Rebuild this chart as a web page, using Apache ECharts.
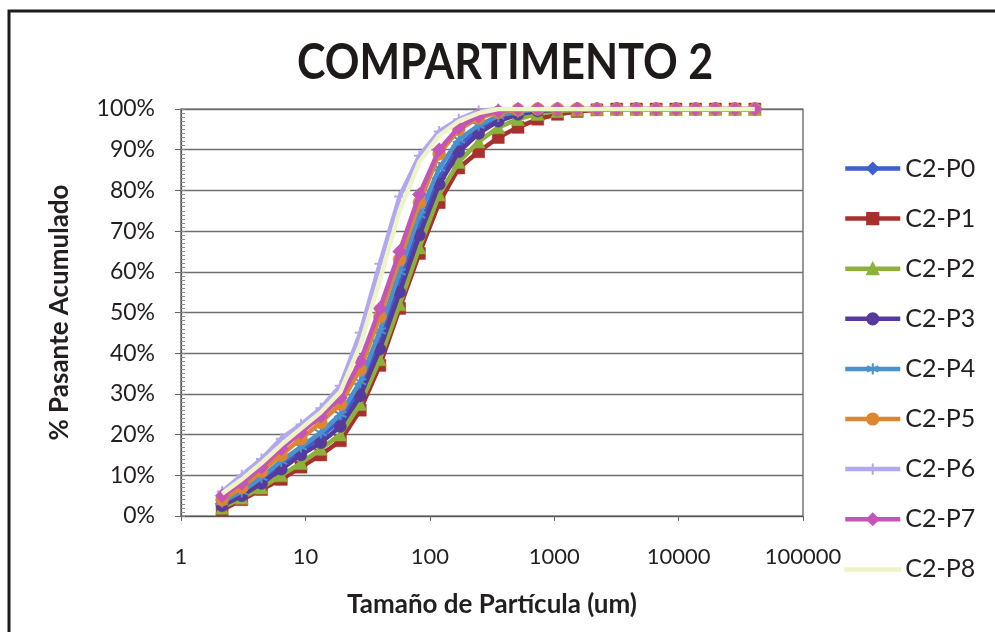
<!DOCTYPE html>
<html>
<head>
<meta charset="utf-8">
<script src="https://cdn.jsdelivr.net/npm/echarts@6/dist/echarts.min.js"></script>
<style>
  html, body { margin: 0; padding: 0; background: #ffffff; }
  #chart { width: 995px; height: 632px; }
</style>
</head>
<body>
<div id="chart"></div>
<script>
// Particle size (um) of each measured fraction
const sizes = [2.14, 3.08, 4.44, 6.40, 9.22, 13.3, 19.1, 27.6, 39.7, 57.2, 82.5, 119, 171, 247,
  355, 512, 738, 1063, 1531, 2206, 3179, 4580, 6598, 9508, 13700, 19740, 28440, 40980];

// Cumulative passing (%) per sample
const p0 = [3, 5.5, 9, 12.5, 16, 19.5, 23.5, 31, 43, 57, 71, 83, 91, 95, 97.5, 99, 99.7,
  100, 100, 100, 100, 100, 100, 100, 100, 100, 100, 100];
const p1 = [1.5, 4, 6.5, 9, 12, 15, 18.5, 26, 37, 51, 64.5, 77, 85.5, 89.5, 93, 95.5, 97.5, 98.7, 99.4, 99.8,
  100, 100, 100, 100, 100, 100, 100, 100];
const p2 = [2, 4.5, 7, 10, 13, 16.5, 20, 27.5, 38.5, 52, 66, 79, 87, 92, 95.5, 97.5, 98.8, 99.5, 99.8,
  100, 100, 100, 100, 100, 100, 100, 100, 100];
const p3 = [2.5, 5, 8, 11.5, 15, 18, 22, 29.5, 41, 55, 69, 81.5, 89.5, 94, 97, 98.7, 99.5, 99.8,
  100, 100, 100, 100, 100, 100, 100, 100, 100, 100];
const p4 = [3.5, 6, 9.5, 13.5, 17, 20.5, 25, 33, 45.5, 60, 74, 85.5, 92.5, 96, 98.3, 99.3,
  100, 100, 100, 100, 100, 100, 100, 100, 100, 100, 100, 100];
const p5 = [4, 7, 11, 15, 19, 23, 27.5, 36, 49, 63, 77, 89, 95, 97.8, 99.2, 99.8,
  100, 100, 100, 100, 100, 100, 100, 100, 100, 100, 100, 100];
const p6 = [6, 10, 14, 19, 22.5, 26.5, 32, 45, 62, 78.5, 88.5, 94.5, 97.5, 99.5,
  100, 100, 100, 100, 100, 100, 100, 100, 100, 100, 100, 100, 100, 100];
const p7 = [5, 8, 12, 16.5, 20.5, 24.5, 29, 38, 51, 65, 79, 90, 95.5, 98.3, 99.5,
  100, 100, 100, 100, 100, 100, 100, 100, 100, 100, 100, 100, 100];
const p8 = [5.5, 9, 13, 17.5, 21.5, 25.5, 30.5, 42, 58, 75, 87, 93.5, 97, 99,
  100, 100, 100, 100, 100, 100, 100, 100, 100, 100, 100, 100, 100, 100];

const seriesNames = ['C2-P0', 'C2-P1', 'C2-P2', 'C2-P3', 'C2-P4', 'C2-P5', 'C2-P6', 'C2-P7', 'C2-P8'];
const seriesValues = [p0, p1, p2, p3, p4, p5, p6, p7, p8];

// x-axis decade labels and y-axis range
const xTicks = [1, 10, 100, 1000, 10000, 100000];
const yMin = 0, yMax = 100, yStep = 10;

const ASTERISK = 'path://M0,-6L0,6M-5.2,-3L5.2,3M-5.2,3L5.2,-3';
const PLUS = 'path://M0,-5L0,5M-5,0L5,0';
// plain thin bar for a series drawn without markers
const BAR_ICON = 'path://M0,0L0,0M0,6L55,6L55,8.5L0,8.5ZM55,14L55,14';

const styles = [
  { color: '#3d5fcf', symbol: 'diamond', size: 14 },
  { color: '#a8302e', symbol: 'rect', size: 12 },
  { color: '#8cb23a', symbol: 'triangle', size: 13 },
  { color: '#563a9c', symbol: 'circle', size: 12 },
  { color: '#4a92cc', symbol: ASTERISK, size: 12, stroke: true },
  { color: '#dd8630', symbol: 'circle', size: 13 },
  { color: '#b2a8f0', symbol: PLUS, size: 11, stroke: true },
  { color: '#c455b6', symbol: 'diamond', size: 14 },
  { color: '#eef4c6', symbol: 'none', size: 0 }
];

const labelFont = 'Lato, "Open Sans", "DejaVu Sans", sans-serif';

const series = seriesNames.map((name, i) => {
  const st = styles[i];
  return {
    name: name,
    type: 'line',
    xAxisIndex: 0,
    yAxisIndex: 0,
    data: sizes.map((s, k) => [s, seriesValues[i][k]]),
    symbol: st.symbol,
    symbolSize: st.size,
    showSymbol: st.symbol !== 'none',
    lineStyle: { color: st.color, width: 4.5 },
    itemStyle: st.stroke
      ? { color: st.color, borderColor: st.color, borderWidth: 2 }
      : { color: st.color, borderColor: st.color, borderWidth: 0.5 },
    emphasis: { disabled: true },
    animation: false,
    z: 3 + i
  };
});

const legendData = seriesNames.map((name, i) =>
  styles[i].symbol === 'none' ? { name: name, icon: BAR_ICON } : { name: name });

const chart = echarts.init(document.getElementById('chart'), null, { renderer: 'canvas' });

chart.setOption({
  backgroundColor: '#ffffff',
  animation: false,
  graphic: [
    {
      type: 'rect',
      shape: { x: 9, y: 11, width: 1000, height: 700 },
      style: { fill: 'none', stroke: '#1b1b1b', lineWidth: 3 },
      silent: true,
      z: 0
    },
    {
      type: 'text',
      x: 505,
      y: 63,
      scaleX: 0.86,
      silent: true,
      style: {
        text: 'COMPARTIMENTO 2',
        font: 'bold 50px Lato, "DejaVu Sans", sans-serif',
        fill: '#1e1a1a',
        textAlign: 'center',
        textVerticalAlign: 'middle'
      },
      z: 10
    }
  ],
  legend: {
    orient: 'vertical',
    left: 843,
    top: 156,
    padding: 0,
    itemWidth: 55,
    itemHeight: 14,
    itemGap: 25.1,
    data: legendData,
    selectedMode: false,
    lineStyle: { width: 4.5 },
    textStyle: {
      fontFamily: labelFont,
      fontSize: 25,
      color: '#231f20',
      lineHeight: 24,
      padding: [0, 0, 0, 0]
    }
  },
  grid: {
    left: 181,
    top: 109,
    right: 192,
    bottom: 116,
    show: true,
    borderColor: '#555555',
    borderWidth: 1.2,
    backgroundColor: '#ffffff'
  },
  xAxis: {
    type: 'log',
    logBase: 10,
    min: xTicks[0],
    max: xTicks[xTicks.length - 1],
    name: 'Tamaño de Partícula (um)',
    nameLocation: 'middle',
    nameGap: 76,
    nameTextStyle: {
      fontFamily: labelFont,
      fontWeight: 'bold',
      fontSize: 26,
      color: '#231f20'
    },
    axisLine: { lineStyle: { color: '#555555', width: 1.2 } },
    axisTick: { show: true, length: 5, lineStyle: { color: '#666666' } },
    minorTick: { show: false },
    splitLine: { show: false },
    axisLabel: {
      margin: 30,
      fontFamily: labelFont,
      fontSize: 22,
      color: '#231f20',
      formatter: (v) => String(Math.round(v))
    }
  },
  yAxis: [
    {
      type: 'value',
      min: yMin,
      max: yMax,
      interval: yStep,
      position: 'left',
      name: '% Pasante Acumulado',
      nameLocation: 'middle',
      nameGap: 108,
      nameRotate: 90,
      nameTextStyle: {
        fontFamily: labelFont,
        fontWeight: 'bold',
        fontSize: 26,
        color: '#231f20'
      },
      axisLine: { show: true, lineStyle: { color: '#555555', width: 1.2 } },
      axisTick: { show: true, length: 6, lineStyle: { color: '#666666' } },
      splitLine: { show: true, lineStyle: { color: '#6e6e6e', width: 1.4 } },
      axisLabel: {
        margin: 26,
        fontFamily: labelFont,
        fontSize: 23,
        color: '#231f20',
        formatter: '{value}%'
      }
    },
    {
      // fine inner ticks every 1%
      type: 'value',
      min: yMin,
      max: yMax,
      interval: 1,
      position: 'left',
      axisLine: { show: false },
      axisTick: { show: true, inside: true, length: 4, lineStyle: { color: '#8a8a8a', width: 1 } },
      splitLine: { show: false },
      axisLabel: { show: false }
    }
  ],
  series: series
});
</script>
</body>
</html>
